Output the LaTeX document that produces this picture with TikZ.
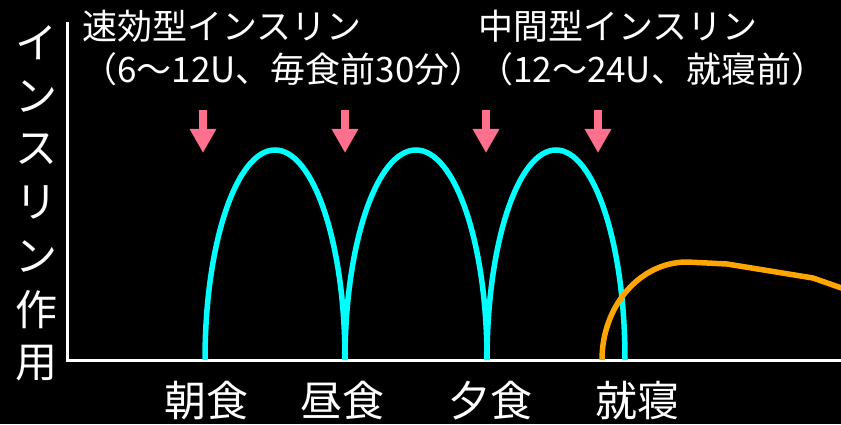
\documentclass[tikz,border=0pt]{standalone}
\usepackage{fontspec}
\setmainfont{Noto Sans CJK JP}
\usetikzlibrary{arrows.meta, positioning}
\definecolor{mCyan}{HTML}{00FFFF}
\definecolor{mOrange}{HTML}{FFA500}
\definecolor{mPink}{HTML}{FF6F8E}

\begin{document}
\begin{tikzpicture}[x=1pt, y=1pt,
  lbl/.style={text=white, inner sep=0pt},
  heading/.style={lbl, anchor=base west, font=\fontsize{35}{42}\selectfont},
  meal/.style={lbl, font=\fontsize{42}{48}\selectfont},
  shot/.style={mPink, line width=8pt, -{Triangle[length=24pt, width=25pt]}},
  fastcurve/.style={mCyan, line width=5.5pt},
  slowcurve/.style={mOrange, line width=5.5pt, line join=round}]
  % background
  \fill[black] (0,0) rectangle (841,424);
  \useasboundingbox (0,0) rectangle (841,424);
  % axes
  \draw[white, line width=3pt] (67,402) -- (67,64) -- (841,64);
  % vertical axis label
  \foreach \ch [count=\i] in {イ,ン,ス,リ,ン,作,用}
    \node[meal] (ylab\i) at (36,{381-53.3*(\i-1)}) {\ch};
  % headings
  \node[heading] (fast) at (82,384.5) {速効型インスリン};
  \node[heading] (fastdose) at ([yshift=-43pt]fast.base west) {（6～12U、毎食前30分）};
  \node[heading] (mid) at (478,384.5) {中間型インスリン};
  \node[heading] (middose) at ([yshift=-43pt]mid.base west) {（12～24U、就寝前）};
  % meals
  \node[meal] (breakfast) at (206.5,23) {朝食};
  \node[meal] (lunch) at (342.5,23) {昼食};
  \node[meal] (dinner) at (490,23) {夕食};
  \node[meal] (bedtime) at (637.5,23) {就寝};
  % injections
  \foreach \x [count=\i] in {203,345,486,598} {
    \coordinate (inj\i) at (\x,314);
    \draw[shot] (inj\i) -- ++(0,-43);
  }
  % fast acting insulin
  \draw[fastcurve] (205,64) arc[start angle=180, end angle=0, x radius=70, y radius=210];
  \draw[fastcurve] (345,64) arc[start angle=180, end angle=0, x radius=71, y radius=210];
  \draw[fastcurve] (487,64) arc[start angle=180, end angle=0, x radius=69, y radius=210];
  % intermediate acting insulin
  \draw[slowcurve] (602,64) arc[start angle=180, end angle=90, x radius=85, y radius=98]
    -- (727,160) -- (813,146) -- (850,133);
\end{tikzpicture}
\end{document}
